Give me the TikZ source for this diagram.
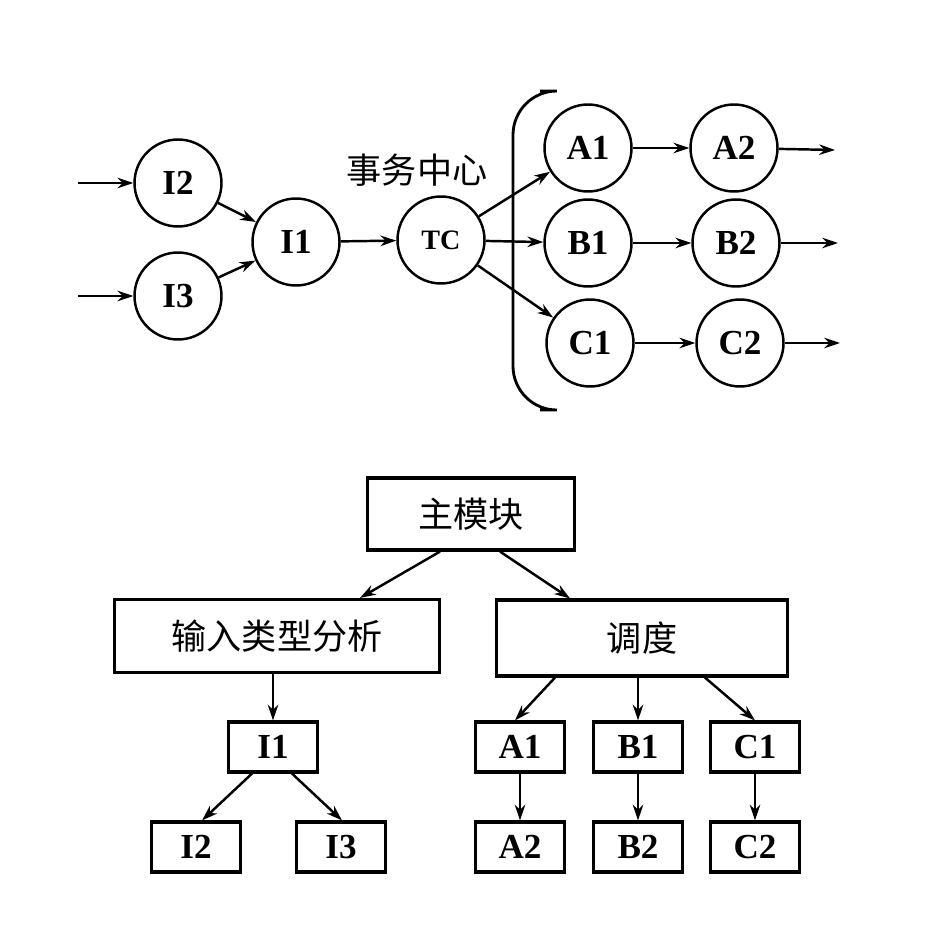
\documentclass[tikz,border=0pt]{standalone}
\usepackage{fontspec}
\setmainfont{Liberation Serif}
\newfontfamily\cjk{Noto Sans CJK SC}
\usetikzlibrary{arrows.meta,positioning}

\begin{document}
\begin{tikzpicture}[
    x=0.02cm, y=-0.02cm,
    state/.style={circle, draw, line width=1.4pt, minimum size=1.74cm, inner sep=0pt, font=\fontsize{20}{20}\selectfont\bfseries},
    module/.style={rectangle, draw, line width=1.8pt, inner sep=0pt, font=\fontsize{20}{20}\selectfont\bfseries},
    cnmodule/.style={module, font=\fontsize{20}{20}\selectfont\cjk},
    arrow/.style={-{Stealth[length=9pt,width=6pt]}, line width=1.4pt}
]
\useasboundingbox (0,0) rectangle (930,932);

% Transaction flow
\node[state] (i2) at (178,183) {I2};
\node[state] (i3) at (178,296) {I3};
\node[state] (i1) at (296,242) {I1};
\node[state, font=\fontsize{16}{16}\selectfont\bfseries] (tc) at (441,240) {TC};
\node[state] (a1) at (588,148) {A1};
\node[state] (a2) at (734,148) {A2};
\node[state] (b1) at (588,243) {B1};
\node[state] (b2) at (736,243) {B2};
\node[state] (c1) at (590,343) {C1};
\node[state] (c2) at (740,343) {C2};
\node[font=\fontsize{20}{20}\selectfont\cjk] (tclabel) at (417,170) {事务中心};

\coordinate (in2) at (78,183);
\coordinate (in3) at (78,296);
\coordinate (outa) at (835,150);
\coordinate (outb) at (838,243);
\coordinate (outc) at (840,343);

\draw[arrow] (in2) -- (i2);
\draw[arrow] (in3) -- (i3);
\draw[arrow] (i2) -- (i1);
\draw[arrow] (i3) -- (i1);
\draw[arrow] (i1) -- (tc);
\draw[arrow] (tc) -- (a1);
\draw[arrow] (tc) -- (b1);
\draw[arrow] (tc) -- (c1);
\draw[arrow] (a1) -- (a2);
\draw[arrow] (b1) -- (b2);
\draw[arrow] (c1) -- (c2);
\draw[arrow] (a2) -- (outa);
\draw[arrow] (b2) -- (outb);
\draw[arrow] (c2) -- (outc);

% Brace
\draw[line width=1.6pt, rounded corners=25] (540,91) -- (513,91) -- (513,410) -- (540,410);

% Module structure
\node[cnmodule, minimum width=4.14cm, minimum height=1.44cm] (main) at (471,514) {主模块};
\node[cnmodule, minimum width=6.5cm, minimum height=1.46cm] (analyse) at (277,636) {输入类型分析};
\node[cnmodule, minimum width=5.82cm, minimum height=1.52cm] (dispatch) at (642,638) {调度};
\tikzset{leaf/.style={module, minimum width=1.78cm, minimum height=1cm}}
\node[leaf] (mi1) at (273,747) {I1};
\node[leaf] (mi2) at (196,847) {I2};
\node[leaf] (mi3) at (341,847) {I3};
\node[leaf] (ma1) at (520,747) {A1};
\node[leaf] (mb1) at (638,747) {B1};
\node[leaf] (mc1) at (755,747) {C1};
\node[leaf] (ma2) at (520,847) {A2};
\node[leaf] (mb2) at (638,847) {B2};
\node[leaf] (mc2) at (755,847) {C2};

\draw[arrow] (main.south -| 440,0) -- (analyse.north -| 360,0);
\draw[arrow] (main.south -| 500,0) -- (dispatch.north -| 570,0);
\draw[arrow] (analyse.south -| mi1) -- (mi1);
\draw[arrow] (mi1.south -| 252,0) -- (mi2.north -| 202,0);
\draw[arrow] (mi1.south -| 292,0) -- (mi3.north -| 342,0);
\draw[arrow] (dispatch.south -| 555,0) -- (ma1.north -| 515,0);
\draw[arrow] (dispatch.south -| mb1) -- (mb1);
\draw[arrow] (dispatch.south -| 705,0) -- (mc1.north -| 755,0);
\draw[arrow] (ma1) -- (ma2);
\draw[arrow] (mb1) -- (mb2);
\draw[arrow] (mc1) -- (mc2);
\end{tikzpicture}
\end{document}
